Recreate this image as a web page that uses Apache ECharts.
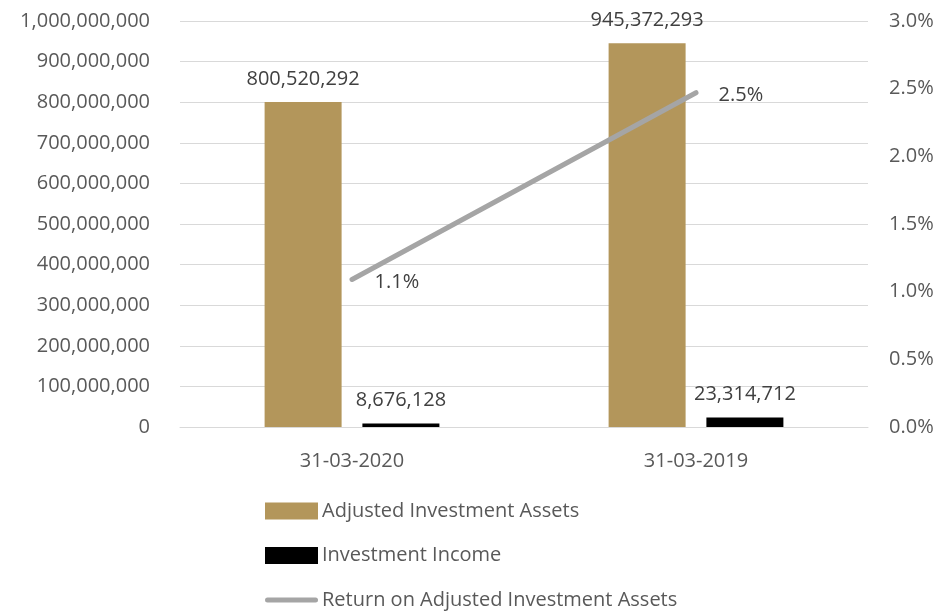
<!DOCTYPE html>
<html><head><meta charset="utf-8">
<script src="https://cdn.jsdelivr.net/npm/echarts@6/dist/echarts.min.js"></script>
<style>html,body{margin:0;padding:0;background:#fff}#c{width:942px;height:614px}</style>
</head><body><div id="c"></div>
<script>
const categories = ['31-03-2020', '31-03-2019'];
const assets = [800520292, 945372293];
const income = [8676128, 23314712];
const returnPct = [1.09, 2.47];
const FONT = '"Open Sans", "Noto Sans", sans-serif';
const FS = 20;
const chart = echarts.init(document.getElementById('c'));
const fmt = v => Math.round(v).toLocaleString('en-US');
chart.setOption({
  animation: false,
  textStyle: { fontFamily: FONT },
  grid: { left: 180, right: 74, top: 21, bottom: 187, containLabel: false },
  legend: {
    orient: 'vertical', left: 265, top: 501, height: 160, padding: 0, itemWidth: 53, itemHeight: 17, itemGap: 24.5,
    textStyle: { fontFamily: FONT, fontSize: FS, color: '#595959', padding: [0,0,0,-1] },
    data: [
      { name: 'Adjusted Investment Assets', icon: 'rect' },
      { name: 'Investment Income', icon: 'rect' },
      { name: 'Return on Adjusted Investment Assets', icon: 'path://M0,0M0,17M2.5,6L50.5,6A2.5,2.5,0,0,1,50.5,11L2.5,11A2.5,2.5,0,0,1,2.5,6Z' }
    ]
  },
  xAxis: {
    type: 'category', data: categories,
    axisLine: { lineStyle: { color: '#D9D9D9', width: 1 } },
    axisTick: { show: false },
    axisLabel: { fontFamily: FONT, fontSize: FS, color: '#595959', margin: 24 }
  },
  yAxis: [
    { type: 'value', min: 0, max: 1000000000, interval: 100000000,
      axisLine: { show: false }, axisTick: { show: false },
      splitLine: { lineStyle: { color: '#D9D9D9', width: 1 } },
      axisLabel: { fontFamily: FONT, fontSize: FS, color: '#595959', margin: 30, formatter: fmt } },
    { type: 'value', min: 0, max: 3, interval: 0.5,
      axisLine: { show: false }, axisTick: { show: false }, splitLine: { show: false },
      axisLabel: { fontFamily: FONT, fontSize: FS, color: '#595959', margin: 21, formatter: v => v.toFixed(1) + '%' } }
  ],
  series: [
    { name: 'Adjusted Investment Assets', type: 'bar', data: assets, barWidth: 77, barGap: '27%',
      itemStyle: { color: '#B3965B' },
      label: { show: true, position: 'top', distance: 13, fontFamily: FONT, fontSize: FS, color: '#404040', formatter: p => fmt(p.value) } },
    { name: 'Investment Income', type: 'bar', data: income, barWidth: 77,
      itemStyle: { color: '#000000' },
      label: { show: true, position: 'top', distance: 13, fontFamily: FONT, fontSize: FS, color: '#404040', formatter: p => fmt(p.value) } },
    { name: 'Return on Adjusted Investment Assets', type: 'line', yAxisIndex: 1, data: returnPct,
      symbol: 'circle', symbolSize: 1, showSymbol: true,
      lineStyle: { color: '#A5A5A5', width: 5, cap: 'round' }, itemStyle: { color: '#A5A5A5' },
      label: { show: true, position: 'right', distance: 22, offset: [0, 3], fontFamily: FONT, fontSize: FS, color: '#404040', formatter: p => p.value.toFixed(1) + '%' } }
  ]
});
</script></body></html>
